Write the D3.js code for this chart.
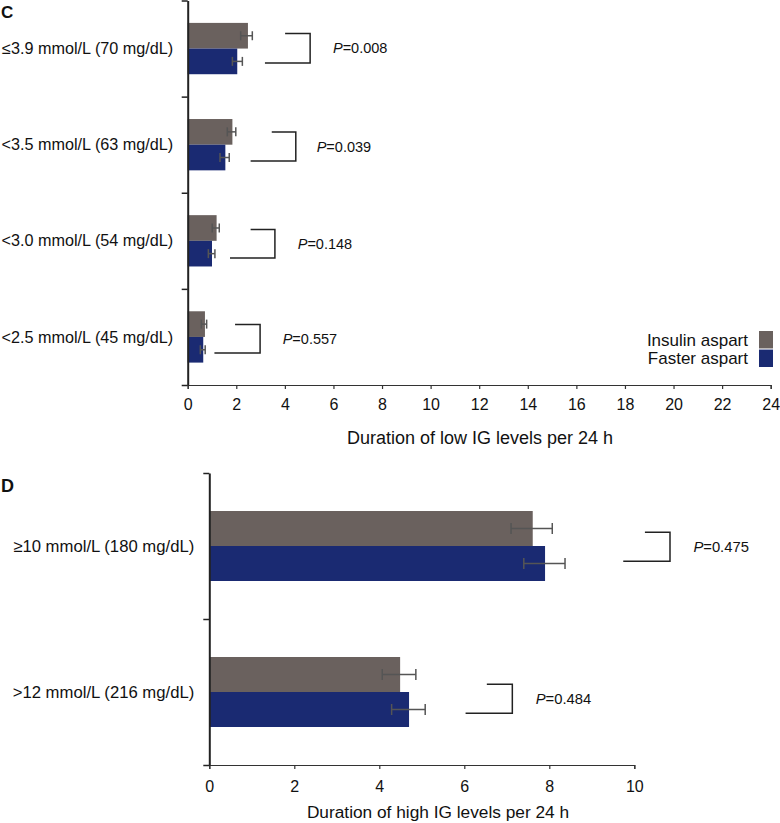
<!DOCTYPE html>
<html><head><meta charset="utf-8">
<script src="https://cdn.jsdelivr.net/npm/d3@7"></script>
<style>
body{margin:0;background:#fff}
svg{display:block}
text{font-family:"Liberation Sans",Arial,Helvetica,sans-serif;fill:#111}
</style>
</head><body>
<svg id="chart" width="780" height="823"></svg>
<script>
// ---------- data ----------
const seriesNames = ["Insulin aspart", "Faster aspart"];
const seriesColors = ["#6a615e", "#1a2a72"];

// Panel C: low IG levels (hours per 24 h)
const lowCategories = ["≤3.9 mmol/L (70 mg/dL)", "<3.5 mmol/L (63 mg/dL)", "<3.0 mmol/L (54 mg/dL)", "<2.5 mmol/L (45 mg/dL)"];
const lowInsulin        = [2.48, 1.84, 1.19, 0.71];
const lowInsulinErrLow  = [2.18, 1.63, 1.01, 0.56];
const lowInsulinErrHigh = [2.66, 1.98, 1.30, 0.78];
const lowFaster         = [2.04, 1.55, 1.00, 0.64];
const lowFasterErrLow   = [1.84, 1.33, 0.85, 0.52];
const lowFasterErrHigh  = [2.25, 1.71, 1.12, 0.72];
const lowPValues        = ["0.008", "0.039", "0.148", "0.557"];
const lowBracketLow     = [3.18, 2.59, 1.74, 1.10];
const lowBracketHigh    = [4.01, 3.46, 2.59, 1.95];
const lowBracketRight   = [5.04, 4.45, 3.59, 2.98];
const lowPLabelX        = [5.98, 5.31, 4.53, 3.91];
const lowTicks          = [0, 2, 4, 6, 8, 10, 12, 14, 16, 18, 20, 22, 24];
const lowTitle          = "Duration of low IG levels per 24 h";

// Panel D: high IG levels (hours per 24 h)
const highCategories = ["≥10 mmol/L (180 mg/dL)", ">12 mmol/L (216 mg/dL)"];
const highInsulin        = [7.61, 4.49];
const highInsulinErrLow  = [7.10, 4.07];
const highInsulinErrHigh = [8.07, 4.86];
const highFaster         = [7.90, 4.70];
const highFasterErrLow   = [7.40, 4.29];
const highFasterErrHigh  = [8.37, 5.08];
const highPValues        = ["0.475", "0.484"];
const highBracketLow     = [9.74, 6.03];
const highBracketHigh    = [10.25, 6.53];
const highBracketRight   = [10.84, 7.13];
const highPLabelX        = [11.39, 7.68];
const highTicks          = [0, 2, 4, 6, 8, 10];
const highTitle          = "Duration of high IG levels per 24 h";

// ---------- drawing ----------
const svg = d3.select("#chart");

function drawPanel(cfg) {
  const g = svg.append("g");
  const x = d3.scaleLinear().domain([0, d3.max(cfg.ticks)]).range([cfg.left, cfg.right]);
  const y = d3.scaleBand().domain(cfg.categories).range([cfg.top, cfg.bottom]);
  const sub = d3.scaleBand().domain(seriesNames).range([0, y.bandwidth()])
      .paddingInner(0).paddingOuter(cfg.outerPad);
  const yIdx = d3.scaleLinear().domain([0, cfg.categories.length]).range([cfg.top, cfg.bottom]);

  const series = [
    {name: seriesNames[0], color: seriesColors[0], v: cfg.ins, lo: cfg.insLo, hi: cfg.insHi},
    {name: seriesNames[1], color: seriesColors[1], v: cfg.fast, lo: cfg.fastLo, hi: cfg.fastHi}
  ];

  // bars
  series.forEach(s => {
    g.append("g").selectAll("rect").data(cfg.categories).join("rect")
      .attr("x", x(0))
      .attr("y", c => y(c) + sub(s.name))
      .attr("width", (c, i) => x(s.v[i]) - x(0))
      .attr("height", sub.bandwidth())
      .attr("fill", s.color);
  });

  // error bars
  series.forEach(s => {
    const eg = g.append("g").attr("stroke", "#555").attr("stroke-width", 1.5).attr("fill", "none");
    cfg.categories.forEach((c, i) => {
      const cy = y(c) + sub(s.name) + sub.bandwidth() / 2;
      eg.append("line").attr("x1", x(s.lo[i])).attr("x2", x(s.hi[i])).attr("y1", cy).attr("y2", cy);
      [s.lo[i], s.hi[i]].forEach(v => {
        eg.append("line").attr("x1", x(v)).attr("x2", x(v))
          .attr("y1", cy - cfg.cap).attr("y2", cy + cfg.cap);
      });
    });
  });

  // x axis
  const xa = g.append("g").attr("transform", `translate(0,${cfg.bottom})`)
    .call(d3.axisBottom(x).tickValues(cfg.ticks).tickFormat(d3.format("d"))
      .tickSize(4).tickPadding(cfg.tickPad).tickSizeOuter(4));
  xa.select(".domain").attr("stroke", "#333").attr("stroke-width", 1.2);
  xa.selectAll(".tick line").attr("stroke", "#333").attr("stroke-width", 1.2);
  xa.selectAll("text").attr("font-size", cfg.tickFont).attr("fill", "#111")
    .style("font-family", '"Liberation Sans",Arial,sans-serif');

  // y axis (band boundaries)
  const ya = g.append("g").attr("transform", `translate(${cfg.left},0)`)
    .call(d3.axisLeft(yIdx).tickValues(d3.range(cfg.categories.length + 1)).tickFormat("")
      .tickSize(6).tickSizeOuter(0));
  ya.select(".domain").attr("stroke", "#222").attr("stroke-width", 2);
  ya.selectAll(".tick line").attr("stroke", "#222").attr("stroke-width", 1.5);

  // category labels
  g.append("g").selectAll("text").data(cfg.categories).join("text")
    .attr("x", cfg.left - cfg.labelGap)
    .attr("y", c => y(c) + y.bandwidth() / 2)
    .attr("dy", "0.35em")
    .attr("text-anchor", "end")
    .attr("font-size", cfg.labelFont)
    .text(c => c);

  // significance brackets
  const bg = g.append("g").attr("stroke", "#222").attr("stroke-width", 1.5).attr("fill", "none");
  cfg.categories.forEach((c, i) => {
    const mid = y(c) + y.bandwidth() / 2;
    const yTopB = mid + cfg.bTopOff[i];
    const yBotB = mid + cfg.bBotOff[i];
    const p = d3.path();
    p.moveTo(x(cfg.bHigh[i]), yTopB);
    p.lineTo(x(cfg.bRight[i]), yTopB);
    p.lineTo(x(cfg.bRight[i]), yBotB);
    p.lineTo(x(cfg.bLow[i]), yBotB);
    bg.append("path").attr("d", p.toString());
    const t = g.append("text")
      .attr("x", x(cfg.pX[i]))
      .attr("y", (yTopB + yBotB) / 2)
      .attr("dy", "0.35em")
      .attr("font-size", cfg.pFont);
    t.append("tspan").attr("font-style", "italic").text("P");
    t.append("tspan").text("=" + cfg.pv[i]);
  });

  // axis title
  g.append("text")
    .attr("x", cfg.titleX).attr("y", cfg.titleY)
    .attr("text-anchor", "middle")
    .attr("font-size", cfg.titleFont)
    .text(cfg.title);

  // panel letter
  g.append("text")
    .attr("x", 1).attr("y", cfg.letterY)
    .attr("font-size", cfg.letterFont).attr("font-weight", "bold")
    .text(cfg.letter);
}

drawPanel({
  categories: lowCategories, ins: lowInsulin, insLo: lowInsulinErrLow, insHi: lowInsulinErrHigh,
  fast: lowFaster, fastLo: lowFasterErrLow, fastHi: lowFasterErrHigh,
  pv: lowPValues, bLow: lowBracketLow, bHigh: lowBracketHigh, bRight: lowBracketRight, pX: lowPLabelX,
  bTopOff: [-15, -12.7, -11.2, -12.4], bBotOff: [14.4, 16.3, 17.2, 16],
  ticks: lowTicks, title: lowTitle,
  left: 187.7, right: 770.7, top: 0.5, bottom: 385,
  outerPad: 0.873, cap: 4.5, tickPad: 9.5, tickFont: 16,
  labelGap: 14.5, labelFont: 16.2, pFont: 14.5,
  titleX: 480, titleY: 444, titleFont: 18,
  letter: "C", letterY: 18, letterFont: 17
});

drawPanel({
  categories: highCategories, ins: highInsulin, insLo: highInsulinErrLow, insHi: highInsulinErrHigh,
  fast: highFaster, fastLo: highFasterErrLow, fastHi: highFasterErrHigh,
  pv: highPValues, bLow: highBracketLow, bHigh: highBracketHigh, bRight: highBracketRight, pX: highPLabelX,
  bTopOff: [-13.7, -7.7], bBotOff: [15.3, 21.3],
  ticks: highTicks, title: highTitle,
  left: 209.3, right: 634.3, top: 473, bottom: 765,
  outerPad: 1.086, cap: 5.5, tickPad: 11.5, tickFont: 16,
  labelGap: 15, labelFont: 16.7, pFont: 14.8,
  titleX: 438, titleY: 818, titleFont: 17.3,
  letter: "D", letterY: 492, letterFont: 18
});

// legend
const legend = svg.append("g");
const legendY = d3.scaleBand().domain(seriesNames).range([331, 367]).paddingInner(0.06);
legend.selectAll("rect").data(seriesNames).join("rect")
  .attr("x", 759).attr("y", d => legendY(d))
  .attr("width", 14).attr("height", legendY.bandwidth())
  .attr("fill", (d, i) => seriesColors[i]);
legend.selectAll("text").data(seriesNames).join("text")
  .attr("x", 748).attr("y", d => legendY(d) + legendY.bandwidth() / 2)
  .attr("dy", "0.35em").attr("text-anchor", "end")
  .attr("font-size", 17)
  .text(d => d);
</script>
</body></html>
